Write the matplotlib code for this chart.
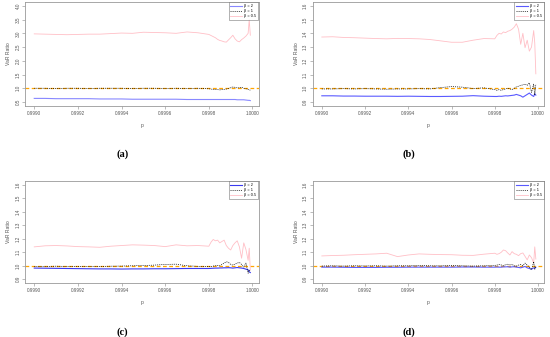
import numpy as np
import matplotlib.pyplot as plt

plt.rcParams['font.family'] = ['Liberation Sans', 'DejaVu Sans']

# quantile grid
p = [0.99900, 0.99905, 0.99910, 0.99915, 0.99920, 0.99925, 0.99930, 0.99935,
     0.99940, 0.99945, 0.99950, 0.99955, 0.99960, 0.99965, 0.99970, 0.99975,
     0.99980, 0.99981, 0.99982, 0.99983, 0.99984, 0.99985, 0.99986, 0.99987,
     0.99988, 0.99989, 0.99990, 0.99991, 0.99992, 0.99993, 0.99994, 0.99995,
     0.99996, 0.99997, 0.99998, 0.999985, 0.99999]

# panel (a)
a_b05 = [2.98, 2.97, 2.96, 2.95, 2.96, 2.97, 2.97, 2.99, 3.01, 3.00, 3.04, 3.03,
         3.02, 3.00, 3.05, 3.02, 2.96, 2.92, 2.88, 2.84, 2.78, 2.74, 2.72, 2.69,
         2.68, 2.76, 2.84, 2.93, 2.80, 2.72, 2.69, 2.77, 2.83, 2.90, 3.00, 3.50, 2.93]
a_b1 = [1.0, 1.0, 0.99, 1.0, 1.0, 0.99, 1.0, 1.0, 1.0, 0.99, 1.0, 1.0, 0.99, 1.0,
        0.99, 1.0, 0.98, 0.97, 0.96, 0.95, 0.95, 0.94, 0.95, 0.96, 0.97, 0.99,
        1.02, 1.05, 1.03, 1.01, 1.02, 1.04, 1.00, 0.98, 0.96, 0.94, 0.93]
a_b2 = [0.63, 0.63, 0.62, 0.62, 0.62, 0.62, 0.61, 0.61, 0.61, 0.60, 0.60, 0.60,
        0.60, 0.60, 0.59, 0.59, 0.59, 0.59, 0.59, 0.59, 0.59, 0.59, 0.59, 0.59,
        0.59, 0.59, 0.59, 0.59, 0.59, 0.58, 0.58, 0.58, 0.58, 0.57, 0.56, 0.56, 0.55]

# panel (b)
b_b05 = [1.373, 1.375, 1.370, 1.368, 1.365, 1.362, 1.360, 1.363, 1.362, 1.360,
         1.355, 1.345, 1.335, 1.335, 1.350, 1.362, 1.360, 1.385, 1.400, 1.395,
         1.410, 1.405, 1.415, 1.420, 1.430, 1.445, 1.470, 1.430, 1.320, 1.400,
         1.295, 1.350, 1.270, 1.300, 1.420, 1.330, 1.105]
b_b1 = [0.995, 0.995, 0.997, 0.995, 0.997, 0.995, 0.993, 0.995, 0.995, 0.997,
        0.995, 1.005, 1.012, 1.008, 0.998, 1.003, 0.990, 0.985, 0.990, 0.985,
        0.990, 0.995, 1.000, 0.995, 0.990, 1.000, 1.010, 1.015, 1.020, 1.025,
        1.030, 1.020, 1.040, 0.970, 1.030, 0.950, 1.030]
b_b2 = [0.945, 0.945, 0.943, 0.943, 0.942, 0.942, 0.942, 0.941, 0.942, 0.941,
        0.940, 0.940, 0.941, 0.942, 0.946, 0.942, 0.940, 0.940, 0.942, 0.941,
        0.943, 0.945, 0.944, 0.946, 0.948, 0.950, 0.955, 0.950, 0.945, 0.935,
        0.945, 0.955, 0.965, 0.950, 0.940, 0.960, 0.950]

# panel (c)
c_b05 = [1.140, 1.148, 1.150, 1.147, 1.142, 1.140, 1.137, 1.145, 1.150, 1.155,
         1.153, 1.150, 1.142, 1.155, 1.148, 1.150, 1.145, 1.175, 1.195, 1.185,
         1.190, 1.170, 1.180, 1.190, 1.150, 1.130, 1.117, 1.150, 1.170, 1.185,
         1.140, 1.056, 1.170, 1.120, 1.040, 1.130, 0.970]
c_b1 = [0.995, 0.995, 0.997, 0.995, 0.995, 0.996, 0.995, 0.997, 0.998, 1.000,
        1.002, 1.005, 1.010, 1.012, 1.000, 0.996, 0.995, 0.993, 0.998, 1.000,
        1.003, 1.000, 1.010, 1.020, 1.030, 1.025, 1.010, 1.005, 1.012, 1.020,
        1.025, 1.010, 0.990, 1.020, 0.945, 0.970, 0.960]
c_b2 = [0.983, 0.982, 0.981, 0.980, 0.979, 0.978, 0.977, 0.977, 0.976, 0.977,
        0.977, 0.978, 0.978, 0.979, 0.980, 0.980, 0.980, 0.981, 0.982, 0.983,
        0.983, 0.984, 0.984, 0.985, 0.985, 0.986, 0.985, 0.983, 0.985, 0.987,
        0.985, 0.983, 0.980, 0.975, 0.970, 0.955, 0.950]

# panel (d)
d_b05 = [1.073, 1.076, 1.078, 1.082, 1.085, 1.088, 1.093, 1.068, 1.080, 1.088,
         1.085, 1.083, 1.082, 1.078, 1.077, 1.086, 1.093, 1.085, 1.090, 1.100,
         1.117, 1.112, 1.095, 1.080, 1.105, 1.090, 1.085, 1.075, 1.090, 1.095,
         1.070, 1.044, 1.080, 1.060, 1.020, 1.140, 1.050]
d_b1 = [0.998, 1.000, 0.998, 1.000, 0.999, 1.000, 0.998, 1.000, 1.000, 1.002,
        1.000, 1.000, 1.002, 1.000, 0.998, 1.000, 1.003, 1.005, 1.010, 1.006,
        1.000, 1.008, 1.012, 1.005, 1.010, 1.000, 0.998, 1.005, 1.010, 1.000,
        1.020, 1.005, 0.990, 0.970, 1.030, 0.975, 0.990]
d_b2 = [0.990, 0.990, 0.989, 0.988, 0.988, 0.988, 0.989, 0.989, 0.990, 0.990,
        0.990, 0.990, 0.990, 0.991, 0.991, 0.990, 0.990, 0.991, 0.990, 0.990,
        0.992, 0.992, 0.993, 0.990, 0.992, 0.993, 0.990, 0.988, 0.985, 0.990,
        0.995, 0.985, 0.980, 0.975, 0.985, 0.980, 0.990]

xticks = [0.9990, 0.9992, 0.9994, 0.9996, 0.9998, 1.0000]
yticks_a = [0.5, 1.0, 1.5, 2.0, 2.5, 3.0, 3.5, 4.0]
yticks_b = [0.9, 1.0, 1.1, 1.2, 1.3, 1.4, 1.5, 1.6]
labels = ["\u03b2 = 2", "\u03b2 = 1", "\u03b2 = 0.5"]

panels = [
    ("(a)", [0.046, 0.686, 0.424, 0.308], a_b2, a_b1, a_b05, yticks_a, (0.36, 4.14), "#8888ff"),
    ("(b)", [0.569, 0.686, 0.420, 0.308], b_b2, b_b1, b_b05, yticks_b, (0.872, 1.628), "#5a5aff"),
    ("(c)", [0.046, 0.160, 0.424, 0.303], c_b2, c_b1, c_b05, yticks_b, (0.872, 1.628), "#3a3af0"),
    ("(d)", [0.569, 0.160, 0.420, 0.303], d_b2, d_b1, d_b05, yticks_b, (0.872, 1.628), "#5a5aff"),
]

fig = plt.figure(figsize=(5.5, 3.37), dpi=100)
for cap, rect, s2, s1, s05, yt, yl, bcol in panels:
    ax = fig.add_axes(rect)
    ax.axhline(1.0, color="orange", lw=0.9, ls=(0, (3, 2)), zorder=1)
    ax.plot(p, s2, color=bcol, lw=0.8, label=labels[0], zorder=3)
    ax.plot(p, s1, color="black", lw=0.5, ls=(0, (1.5, 1.5)), label=labels[1], zorder=4)
    ax.plot(p, s05, color="#ffbfc6", lw=0.6, label=labels[2], zorder=2)
    ax.set_xlim(0.998959, 1.0000275)
    ax.set_ylim(*yl)
    ax.set_xticks(xticks)
    ax.set_xticklabels(["%.4f" % v for v in xticks])
    ax.set_yticks(yt)
    ax.set_yticklabels(["%.1f" % v for v in yt], rotation=90, va="center")
    ax.tick_params(labelsize=3.3, length=2, width=0.4, color="#888888",
                   labelcolor="#555555", pad=1.5)
    for s in ax.spines.values():
        s.set_color("#999999")
        s.set_linewidth(0.6)
    ax.set_xlabel("p", fontsize=3.6, color="#555555", labelpad=5)
    ax.set_ylabel("VaR Ratio", fontsize=3.6, color="#555555", labelpad=3)
    leg = ax.legend(loc="upper right", fontsize=2.8, frameon=True, fancybox=False,
                    borderaxespad=0.1, handlelength=3, borderpad=0.4,
                    labelspacing=0.3, handletextpad=0.6)
    leg.get_frame().set_edgecolor("#555555")
    leg.get_frame().set_linewidth(0.4)
    bb = rect[0] + rect[2] / 2
    fig.text(bb - 0.035, rect[1] - 0.145, cap, fontsize=7.5, family="Liberation Serif",
             fontweight="bold", ha="center", va="center")

fig.savefig("out.png", dpi=100)
